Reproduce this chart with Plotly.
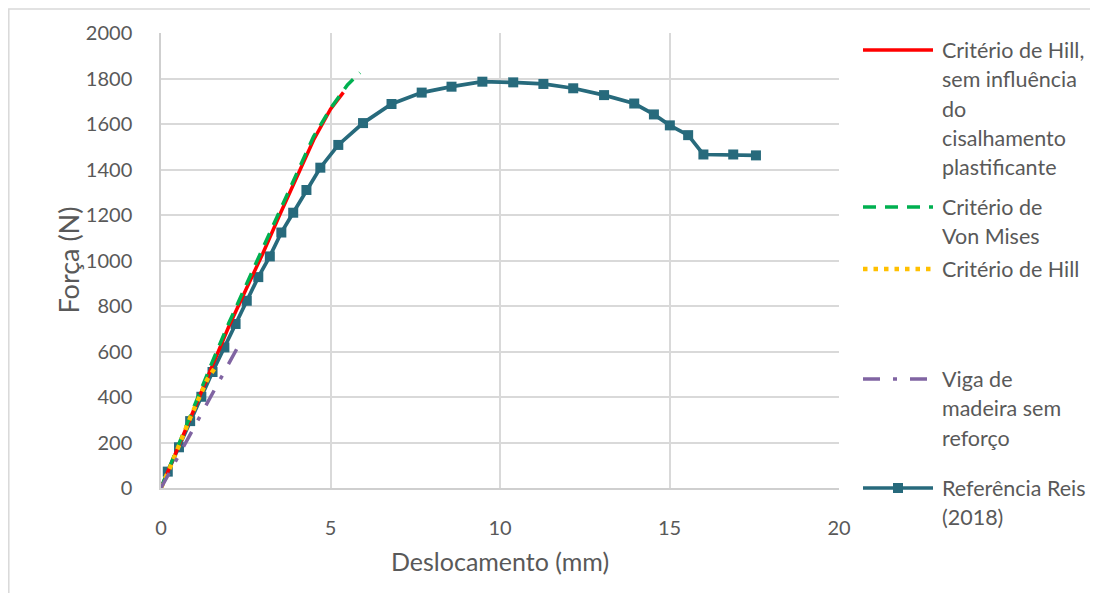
import plotly.graph_objects as go

# ---------------- data ----------------
hill_noshear_x = [0, 0.5, 1.0, 1.5, 2.0, 2.5, 3.0, 3.5, 4.0, 4.5, 5.0, 5.38]
hill_noshear_y = [0, 180, 360, 535, 710, 870, 1030, 1200, 1365, 1530, 1665, 1739]

vonmises_x = [0, 0.5, 1.0, 1.5, 2.0, 2.5, 3.0, 3.5, 4.0, 4.5, 5.0, 5.25, 5.5, 5.87]
vonmises_y = [0, 185, 370, 550, 725, 890, 1055, 1220, 1385, 1545, 1668, 1720, 1772, 1825]

hill_x = [0, 0.27, 0.86, 1.37, 1.60]
hill_y = [0, 91, 308, 479, 530]

viga_x = [0, 0.80, 1.44, 1.86, 2.26]
viga_y = [0, 218, 387, 507, 618]

reis_x = [0.20, 0.53, 0.86, 1.19, 1.52, 1.87, 2.20, 2.53, 2.87, 3.21, 3.55, 3.90, 4.29,
          4.70, 5.23, 5.96, 6.80, 7.69, 8.57, 9.48, 10.39, 11.28, 12.16, 13.07, 13.96,
          14.54, 15.01, 15.55, 16.00, 16.88, 17.55]
reis_y = [72, 179, 294, 401, 510, 618, 721, 823, 927, 1018, 1123, 1210, 1310,
          1408, 1508, 1604, 1688, 1738, 1764, 1786, 1783, 1776, 1757, 1727, 1690,
          1642, 1594, 1551, 1466, 1466, 1462]

x_ticks = [0, 5, 10, 15, 20]
y_ticks = [0, 200, 400, 600, 800, 1000, 1200, 1400, 1600, 1800, 2000]

series_names = [
    ["Critério de Hill,", "sem influência", "do", "cisalhamento", "plastificante"],
    ["Critério de", "Von Mises"],
    ["Critério de Hill"],
    ["Viga de", "madeira sem", "reforço"],
    ["Referência Reis", "(2018)"],
]
x_title = "Deslocamento (mm)"
y_title = "Força (N)"

# ---------------- styles ----------------
FONT = "Lato"
FS_TICK = 20
FS_LEG = 21.5
FS_XT = 25
FS_YT = 27
TXT = "#595959"
GRID = "#d9d9d9"
RED = "#ff0000"
GREEN = "#00b050"
YELLOW = "#ffc000"
PURPLE = "#8064a2"
TEAL = "#276a7c"

DASH_G = "13px,9px"
DASH_Y = "4.5px,6px"
DASH_P = "17px,13px,4px,13px"

OFF = 8  # default page body margin
W, H = 1098 - OFF, 593 - OFF
L, R, T, B = 161, 839, 33, 488  # target page pixels of the plot area


def px(xp):
    return (xp - L) / (R - L)


def py(yp):
    return (B - yp) / (B - T)


fig = go.Figure()
fig.add_trace(go.Scatter(x=reis_x, y=reis_y, mode="lines+markers",
                         line=dict(color=TEAL, width=3.7),
                         marker=dict(symbol="square", size=10, color=TEAL),
                         cliponaxis=False, name=" ".join(series_names[4])))
fig.add_trace(go.Scatter(x=hill_noshear_x, y=hill_noshear_y, mode="lines",
                         line=dict(color=RED, width=3.5), name=" ".join(series_names[0])))
fig.add_trace(go.Scatter(x=vonmises_x, y=vonmises_y, mode="lines",
                         line=dict(color=GREEN, width=3.5, dash=DASH_G), name=" ".join(series_names[1])))
fig.add_trace(go.Scatter(x=hill_x, y=hill_y, mode="lines",
                         line=dict(color=YELLOW, width=4.5, dash=DASH_Y), name=" ".join(series_names[2])))
fig.add_trace(go.Scatter(x=viga_x, y=viga_y, mode="lines",
                         line=dict(color=PURPLE, width=3.5, dash=DASH_P), name=" ".join(series_names[3])))

shapes = []
annotations = []

# outer chart-area border (cropped)
shapes.append(dict(type="rect", xref="paper", yref="paper",
                   x0=px(8.8), x1=px(1200), y0=py(700), y1=py(9),
                   line=dict(color=GRID, width=1.5), fillcolor="rgba(0,0,0,0)", layer="below"))

# manual legend
leg_x0, leg_x1, text_x = 863, 933, 940
entries = [
    (series_names[0], 50, dict(color=RED, width=3.5, dash="solid"), False),
    (series_names[1], 207, dict(color=GREEN, width=3.5, dash=DASH_G), False),
    (series_names[2], 269, dict(color=YELLOW, width=4.5, dash=DASH_Y), False),
    (series_names[3], 379, dict(color=PURPLE, width=3.5, dash=DASH_P), False),
    (series_names[4], 488, dict(color=TEAL, width=3.7, dash="solid"), True),
]
LINE_H = 29.3
for lines, y0, lstyle, has_marker in entries:
    shapes.append(dict(type="line", xref="paper", yref="paper",
                       x0=px(leg_x0), x1=px(leg_x1), y0=py(y0), y1=py(y0), line=lstyle))
    if has_marker:
        mx = (leg_x0 + leg_x1) / 2
        shapes.append(dict(type="rect", xref="paper", yref="paper",
                           x0=px(mx - 5), x1=px(mx + 5), y0=py(y0 + 5), y1=py(y0 - 5),
                           line=dict(width=0), fillcolor=TEAL))
    for i, t in enumerate(lines):
        annotations.append(dict(text=t, xref="paper", yref="paper",
                                x=px(text_x), y=py(y0 + i * LINE_H),
                                xanchor="left", yanchor="middle", showarrow=False,
                                font=dict(family=FONT, size=FS_LEG, color=TXT)))

# axis titles
annotations.append(dict(text=x_title, xref="paper", yref="paper", x=0.5, y=py(561),
                        xanchor="center", yanchor="middle", showarrow=False,
                        font=dict(family=FONT, size=FS_XT, color=TXT)))
annotations.append(dict(text=y_title, xref="paper", yref="paper", x=px(68), y=0.5,
                        xanchor="center", yanchor="middle", showarrow=False, textangle=-90,
                        font=dict(family=FONT, size=FS_YT, color=TXT)))

fig.update_layout(
    width=W, height=H,
    margin=dict(l=L - OFF, r=W - (R - OFF), t=T - OFF, b=H - (B - OFF), pad=0),
    paper_bgcolor="white", plot_bgcolor="white",
    showlegend=False,
    font=dict(family=FONT, size=FS_TICK, color=TXT),
    shapes=shapes, annotations=annotations,
)
fig.update_xaxes(range=[0, 20], tickvals=x_ticks, ticktext=[str(v) for v in x_ticks],
                 showgrid=True, gridcolor=GRID, gridwidth=1.5,
                 showline=True, linecolor="#cfcfcf", linewidth=1.5,
                 zeroline=False, ticks="", ticklabelstandoff=21,
                 tickfont=dict(family=FONT, size=FS_TICK, color=TXT), fixedrange=True)
fig.update_yaxes(range=[0, 2000], tickvals=y_ticks, ticktext=[str(v) for v in y_ticks],
                 showgrid=True, gridcolor=GRID, gridwidth=1.5,
                 showline=True, linecolor="#cfcfcf", linewidth=1.5,
                 zeroline=False, ticks="", ticklabelstandoff=23,
                 tickfont=dict(family=FONT, size=FS_TICK, color=TXT), fixedrange=True)

fig.write_html("out.html")
